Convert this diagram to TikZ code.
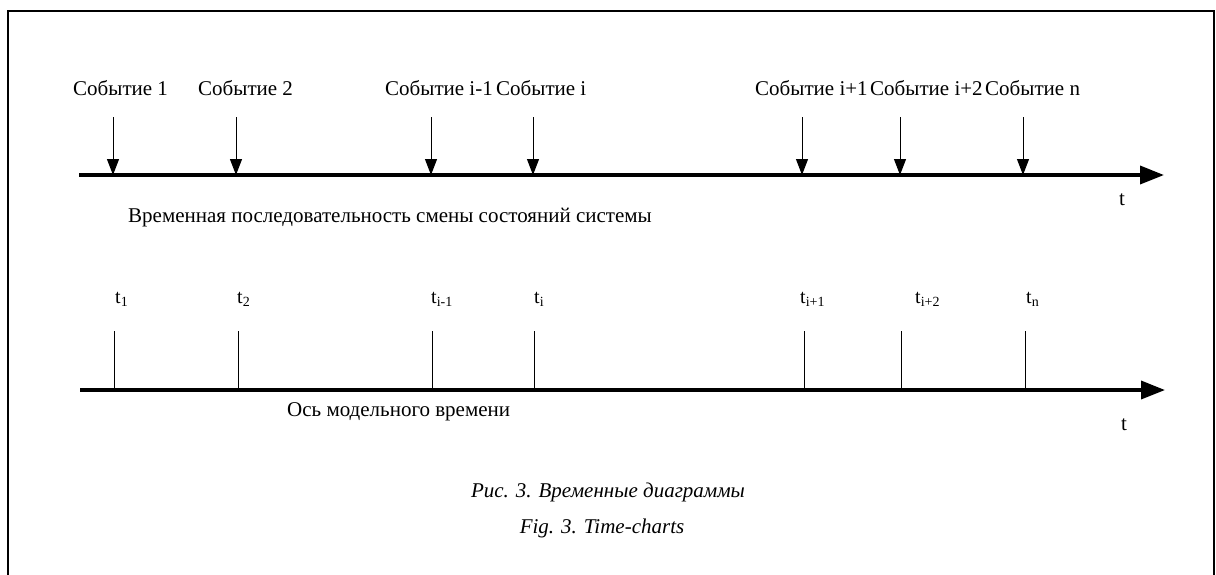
\documentclass[tikz,border=0pt]{standalone}
\usepackage{fontspec}
\setmainfont{Liberation Serif}
\usetikzlibrary{arrows.meta}
\begin{document}
\begin{tikzpicture}[x=1pt,y=-1pt,
  lbl/.style={inner sep=0pt,font=\fontsize{21}{24}\selectfont},
  tlbl/.style={inner sep=0pt,anchor=base west,font=\fontsize{20}{23}\selectfont},
  captxt/.style={inner sep=0pt,anchor=base,font=\fontsize{21}{24}\selectfont\itshape},
  axis/.style={line width=3.5pt,-{Triangle[length=24pt,width=18pt]}},
  evarrow/.style={line width=1pt,-{Triangle[length=16pt,width=12pt]}},
  tick/.style={line width=1pt}]
\useasboundingbox (0,0) rectangle (1216,574);
% open frame
\draw[line width=1.8pt] (8,590) -- (8,11) -- (1214,11) -- (1214,590);

% upper axis: events
\coordinate (a0) at (79,175);
\coordinate (a1) at (1164,175);
\draw[axis] (a0) -- (a1);
\foreach \x/\n in {113/e1,236/e2,431/e3,533/e4,802/e5,900/e6,1023/e7}{
  \coordinate (\n top) at (\x,117);
  \coordinate (\n bot) at (\x,175);
  \draw[evarrow] (\n top) -- (\n bot);
}
\node[lbl,anchor=base west] (l1) at (73,95) {Событие 1};
\node[lbl,anchor=base west] (l2) at (198,95) {Событие 2};
\node[lbl,anchor=base west] (l3) at (385,95) {Событие i-1};
\node[lbl,anchor=base west] (l4) at (496,95) {Событие i};
\node[lbl,anchor=base west] (l5) at (755,95) {Событие i+1};
\node[lbl,anchor=base west] (l6) at (870,95) {Событие i+2};
\node[lbl,anchor=base west] (l7) at (985,95) {Событие n};
\node[lbl,anchor=base west] (t1) at (1119,205) {t};
\node[lbl,anchor=base west] (s1) at (128,222) {Временная последовательность смены состояний системы};

% lower axis: model time
\coordinate (b0) at (80,390);
\coordinate (b1) at (1165,390);
\draw[axis] (b0) -- (b1);
\foreach \x/\n in {114/k1,238/k2,432/k3,534/k4,804/k5,901/k6,1025/k7}{
  \coordinate (\n top) at (\x,331);
  \coordinate (\n bot) at (\x,390);
  \draw[tick] (\n top) -- (\n bot);
}
\node[tlbl] (m1) at (115,303) {t\textsubscript{1}};
\node[tlbl] (m2) at (237,303) {t\textsubscript{2}};
\node[tlbl] (m3) at (431,303) {t\textsubscript{i-1}};
\node[tlbl] (m4) at (534,303) {t\textsubscript{i}};
\node[tlbl] (m5) at (800,303) {t\textsubscript{i+1}};
\node[tlbl] (m6) at (915,303) {t\textsubscript{i+2}};
\node[tlbl] (m7) at (1026,303) {t\textsubscript{n}};
\node[lbl,anchor=base west] (t2) at (1121,430) {t};
\node[lbl,anchor=base west] (s2) at (287,416) {Ось модельного времени};

% caption
\node[captxt] (c1) at (608,497) {Рис. 3. Временные диаграммы};
\node[captxt] (c2) at (602,533) {Fig. 3. Time-charts};
\end{tikzpicture}
\end{document}
